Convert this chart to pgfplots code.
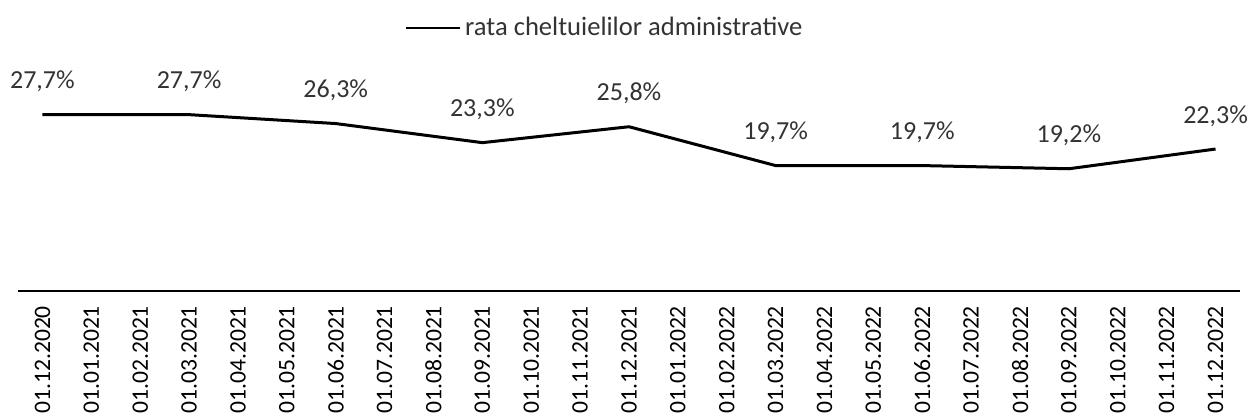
\documentclass[border=0pt]{standalone}
\usepackage{fontspec}
\setmainfont{Carlito}
\usepackage{pgfplots}
\pgfplotsset{compat=1.18}
\usepackage{pgfplotstable}
\pgfplotstableread{
x y lab
0 27.7 27,7\%
3 27.7 27,7\%
6 26.3 26,3\%
9 23.3 23,3\%
12 25.8 25,8\%
15 19.7 19,7\%
18 19.7 19,7\%
21 19.2 19,2\%
24 22.3 22,3\%
}\datatable
\begin{document}
\begin{tikzpicture}
\useasboundingbox (-9pt,-63pt) rectangle (616pt,145.5pt);
\begin{axis}[
  at={(0,0)}, anchor=south west,
  scale only axis, width=611pt, height=95.5pt,
  xmin=-0.5, xmax=24.5, ymin=0, ymax=30,
  axis x line*=bottom, axis y line=none,
  axis line style={line width=1pt, -},
  major tick length=0pt,
  xtick={0,...,24},
  xticklabels={01.12.2020,01.01.2021,01.02.2021,01.03.2021,01.04.2021,01.05.2021,01.06.2021,01.07.2021,01.08.2021,01.09.2021,01.10.2021,01.11.2021,01.12.2021,01.01.2022,01.02.2022,01.03.2022,01.04.2022,01.05.2022,01.06.2022,01.07.2022,01.08.2022,01.09.2022,01.10.2022,01.11.2022,01.12.2022},
  xticklabel shift=4pt,
  xticklabel style={rotate=90, anchor=east, font=\fontsize{11.8}{13}\selectfont},
  ytick=\empty,
  clip=false,
  legend style={draw=none, fill=none, at={(axis description cs:0.481,1)}, anchor=center, yshift=36pt, font=\fontsize{13.3}{15}\selectfont, text=black!80,
    /tikz/every even column/.append style={column sep=3pt}},
  legend image code/.code={\draw[line width=1pt] (0pt,0pt) -- (27pt,0pt);},
]
\addplot[black, line width=1.5pt, mark=none, nodes near coords, point meta=explicit symbolic,
  every node near coord/.append style={anchor=center, yshift=16.5pt, font=\fontsize{13}{15}\selectfont, text=black!80}]
  table[x=x, y=y, meta=lab]{\datatable};
\addlegendentry{rata cheltuielilor administrative}
\end{axis}
\end{tikzpicture}
\end{document}
